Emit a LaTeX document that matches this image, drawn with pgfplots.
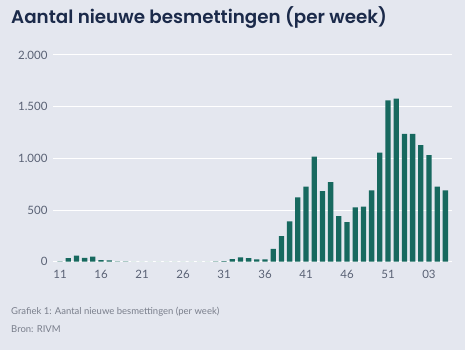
\documentclass[border=0pt]{standalone}
\usepackage{fontspec}
\setmainfont{Lato}
\newfontfamily\titlefont{Poppins SemiBold}
\usepackage{pgfplots}
\pgfplotsset{compat=1.18}
\definecolor{bg}{HTML}{E4E7EF}
\definecolor{bar}{HTML}{17695F}
\definecolor{titlec}{HTML}{1B2A4A}
\definecolor{tickc}{HTML}{5A6275}
\definecolor{capc}{HTML}{7A7F8C}
\begin{document}
\begin{tikzpicture}[x=1pt,y=1pt]
\fill[bg] (0,0) rectangle (465,350);
\useasboundingbox (0,0) rectangle (465,350);
\node[anchor=base west, inner sep=0pt, text=titlec] at (11,326) {\titlefont\fontsize{18.3}{20}\selectfont Aantal nieuwe besmettingen (per week)};
\begin{axis}[
  at={(53.3pt,88.3pt)}, anchor=south west,
  scale only axis, width=398.4pt, height=206.7pt,
  xmin=-0.82, xmax=47.77, ymin=0, ymax=2000,
  axis line style={draw=none}, tick style={draw=none},
  ymajorgrids, grid style={white, line width=1pt},
  ytick={0,500,1000,1500,2000},
  yticklabels={0,500,1.000,1.500,2.000},
  xtick={0,5,...,45},
  xticklabels={11,16,21,26,31,36,41,46,51,03},
  ticklabel style={font=\fontsize{11.5}{13}\selectfont, text=tickc},
  yticklabel style={inner sep=0pt, anchor=east, xshift=-5.6pt},
  xticklabel style={inner sep=0pt, anchor=base, yshift=-17.3pt},
  /pgf/number format/assume math mode=true,
  clip=false,
]
\addplot[ybar, bar width=5.3pt, fill=bar, draw=none] coordinates {
(0,3) (1,35) (2,58) (3,37) (4,48) (5,16) (6,13) (7,4) (8,2) (9,0)
(10,0) (11,0) (12,0) (13,0) (14,0) (15,0) (16,0) (17,0) (18,0) (19,2)
(20,6) (21,26) (22,42) (23,35) (24,23) (25,23) (26,123) (27,248) (28,390) (29,623)
(30,726) (31,1016) (32,684) (33,771) (34,442) (35,384) (36,526) (37,532) (38,690) (39,1055)
(40,1561) (41,1577) (42,1236) (43,1236) (44,1129) (45,1032) (46,726) (47,690)
};
\end{axis}
\node[anchor=base west, inner sep=0pt, text=capc] at (11,35.7) {\fontsize{9.5}{11}\selectfont Grafiek 1: Aantal nieuwe besmettingen (per week)};
\node[anchor=base west, inner sep=0pt, text=capc] at (11,17) {\fontsize{9.5}{11}\selectfont Bron: RIVM};
\end{tikzpicture}
\end{document}
